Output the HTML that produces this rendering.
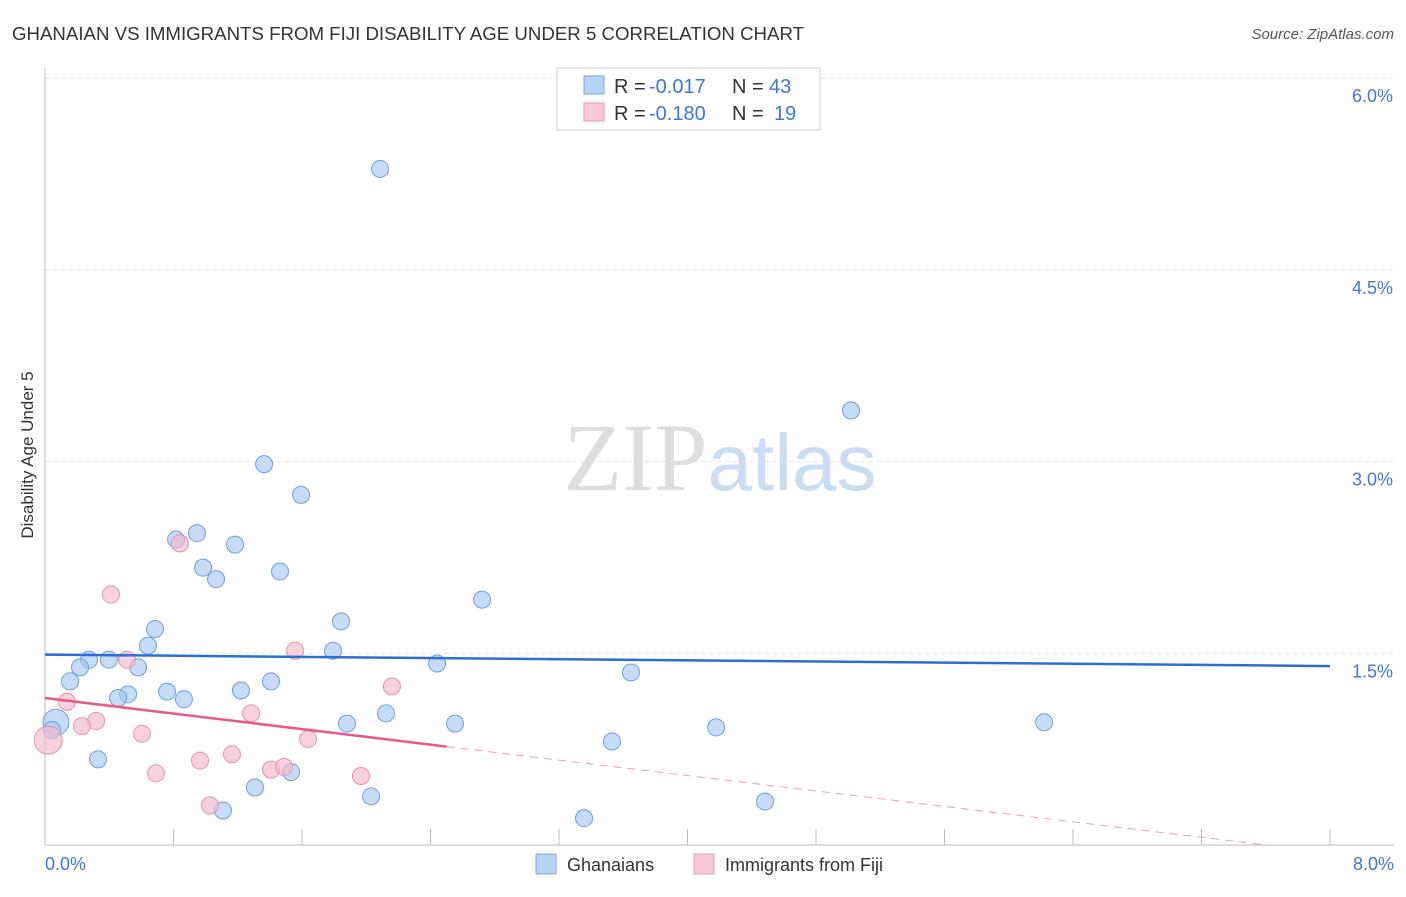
<!DOCTYPE html>
<html><head><meta charset="utf-8"><style>
body{margin:0;background:#fff;font-family:"Liberation Sans",sans-serif}
</style></head><body>
<svg id="chart" width="1406" height="892" xmlns="http://www.w3.org/2000/svg" font-family="Liberation Sans, sans-serif">
<text x="12" y="40" font-size="18" fill="#333" textLength="792" lengthAdjust="spacingAndGlyphs">GHANAIAN VS IMMIGRANTS FROM FIJI DISABILITY AGE UNDER 5 CORRELATION CHART</text>
<text x="1394" y="39" font-size="15" fill="#555" font-style="italic" text-anchor="end">Source: ZipAtlas.com</text>
<text transform="translate(33,455) rotate(-90)" font-size="17" fill="#333" text-anchor="middle">Disability Age Under 5</text>
<text x="720" y="490" font-size="96" text-anchor="middle"><tspan fill="#ddd" font-family="Liberation Serif, serif">ZIP</tspan><tspan fill="#c8dcf4" font-size="80">atlas</tspan></text>
<g id="grid"></g><g id="marks"></g>
<g>
<rect x="557" y="68" width="263" height="62" fill="#fff" stroke="#ccc"/>
<rect x="584" y="76" width="20" height="18" fill="#b8d4f4" stroke="#7aa8e0"/>
<text x="614" y="93" font-size="20" fill="#333">R =</text>
<text x="649" y="93" font-size="20" fill="#3b78d8">-0.017</text>
<text x="732" y="93" font-size="20" fill="#333">N =</text>
<text x="769" y="93" font-size="20" fill="#3b78d8">43</text>
<rect x="584" y="103" width="20" height="18" fill="#f8c8d8" stroke="#e898b0"/>
<text x="614" y="120" font-size="20" fill="#333">R =</text>
<text x="649" y="120" font-size="20" fill="#3b78d8">-0.180</text>
<text x="732" y="120" font-size="20" fill="#333">N =</text>
<text x="774" y="120" font-size="20" fill="#3b78d8">19</text>
</g>
<g>
<rect x="536" y="854" width="20" height="20" fill="#b8d4f4" stroke="#7aa8e0"/>
<text x="567" y="871" font-size="18" fill="#333">Ghanaians</text>
<rect x="694" y="854" width="20" height="20" fill="#f8c8d8" stroke="#e898b0"/>
<text x="725" y="871" font-size="18" fill="#333">Immigrants from Fiji</text>
</g>
</svg>
<script>
const yTicks=[1.5,3.0,4.5,6.0];
const yTickLabels=["1.5%","3.0%","4.5%","6.0%"];
const xTickLabels=["0.0%","8.0%"];
const blueX=[2.086,5.018,1.364,1.594,0.946,0.816,1.183,0.984,1.065,1.463,2.721,0.685,1.843,0.641,1.793,0.274,0.398,0.579,0.218,2.441,3.648,0.156,1.407,0.517,0.455,0.760,0.865,1.220,0.068,1.880,2.123,2.553,4.178,6.220,0.330,3.530,1.532,1.307,2.030,1.108,4.483,3.356,0.044];
const blueY=[5.29,3.40,2.98,2.74,2.44,2.39,2.35,2.17,2.08,2.14,1.92,1.69,1.75,1.56,1.52,1.45,1.45,1.39,1.39,1.42,1.35,1.28,1.28,1.18,1.15,1.20,1.14,1.21,0.96,0.95,1.03,0.95,0.92,0.96,0.67,0.81,0.57,0.45,0.38,0.27,0.34,0.21,0.90];
const pinkX=[0.02,0.137,0.411,0.840,0.511,0.318,0.230,0.604,0.691,0.965,1.164,1.283,1.027,1.557,1.407,1.488,1.638,2.160,1.967];
const pinkY=[0.82,1.12,1.96,2.36,1.45,0.97,0.93,0.87,0.56,0.66,0.71,1.03,0.31,1.52,0.59,0.61,0.83,1.24,0.54];
const blueTrend=[1.49,1.40];
const pinkTrend=[1.15,-0.152];
const X=v=>45+v/8*1285, Y=v=>845-v/1.5*191.7;
const NS="http://www.w3.org/2000/svg";
function mk(t,a,p){const e=document.createElementNS(NS,t);for(const k in a)e.setAttribute(k,a[k]);p.appendChild(e);return e;}
const g=document.getElementById('grid'), m=document.getElementById('marks');
yTicks.forEach((v,i)=>{
 const l=mk('line',{x1:45,x2:1394,y1:Y(v),y2:Y(v),stroke:'#e4e4e4','stroke-dasharray':'4,4'},g);
 
 
 const t=mk('text',{x:1393,y:Y(v)+24,'font-size':18,fill:'#3b78d8','text-anchor':'end'},g);t.textContent=yTickLabels[i];
 
 
});
const ax=mk('line',{x1:45,x2:45,y1:68,y2:845,stroke:'#bbb'},g);


const bx=mk('line',{x1:45,x2:1394,y1:845,y2:845,stroke:'#bbb'},g);


for(let i=1;i<=10;i++){const t=mk('line',{x1:X(i*0.8),x2:X(i*0.8),y1:829,y2:845,stroke:'#bbb'},g);
 
 }
[[0,'start',45],[8,'end',1394]].forEach((d,i)=>{const t=mk('text',{x:d[2],y:870,'font-size':18,fill:'#3b78d8','text-anchor':d[1]},g);t.textContent=xTickLabels[i];
 
 });
blueX.forEach((x,i)=>{const c=mk('circle',{cx:X(x),cy:Y(blueY[i]),r:(i==28?13:8.5),fill:'#a8c8f0','fill-opacity':0.65,stroke:'#6a9fe0','stroke-width':1},m);
 
 });
pinkX.forEach((x,i)=>{const c=mk('circle',{cx:X(x),cy:Y(pinkY[i]),r:(i==0?14:8.5),fill:'#f5b8cc','fill-opacity':0.65,stroke:'#e890ac','stroke-width':1},m);
 
 });
const bl=mk('line',{x1:X(0),y1:Y(blueTrend[0]),x2:X(8),y2:Y(blueTrend[1]),stroke:'#2a6fd6','stroke-width':2.5},m);


const pl=mk('line',{x1:X(0),y1:Y(pinkTrend[0]),x2:X(2.5),y2:Y(pinkTrend[0]+pinkTrend[1]*2.5),stroke:'#e8588a','stroke-width':2.5},m);


const pd=mk('line',{x1:X(2.5),y1:Y(pinkTrend[0]+pinkTrend[1]*2.5),x2:X(7.6),y2:Y(Math.max(0,pinkTrend[0]+pinkTrend[1]*7.6)),stroke:'#e8a0b8','stroke-width':1,'stroke-dasharray':'8,6'},m);


</script>
</body></html>
